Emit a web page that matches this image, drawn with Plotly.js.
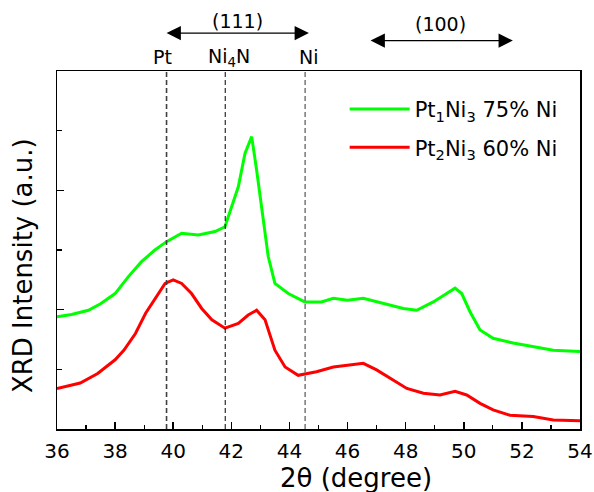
<!DOCTYPE html>
<html>
<head>
<meta charset="utf-8">
<script src="https://cdn.plot.ly/plotly-3.0.1.min.js"></script>
<style>html,body{margin:0;padding:0;background:#fff;}#chart{width:594px;height:492px;}</style>
</head>
<body>
<div id="chart"></div>
<script>
// 2θ positions and intensities (a.u., offset)
const greenX = [36.0, 36.5, 37.08, 37.5, 38.0, 38.45, 38.9, 39.37, 39.77, 40.29, 40.86, 41.44, 41.78, 42.0, 42.24, 42.47, 42.7, 42.87, 43.1, 43.27, 43.5, 43.96, 44.53, 45.1, 45.51, 46.0, 46.54, 47.23, 47.92, 48.38, 48.95, 49.41, 49.7, 49.93, 50.21, 50.56, 51.01, 51.7, 52.39, 53.08, 54.0];
const greenY = [1.88, 1.92, 1.99, 2.1, 2.27, 2.55, 2.8, 3.0, 3.14, 3.28, 3.25, 3.31, 3.39, 3.7, 4.06, 4.62, 4.9, 4.34, 3.45, 2.89, 2.44, 2.27, 2.13, 2.13, 2.19, 2.16, 2.19, 2.11, 2.02, 1.99, 2.13, 2.27, 2.36, 2.27, 1.97, 1.66, 1.52, 1.44, 1.38, 1.32, 1.3];
const redX = [36.0, 36.8, 37.4, 38.0, 38.3, 38.7, 39.05, 39.37, 39.72, 40.0, 40.29, 40.63, 40.98, 41.33, 41.78, 42.24, 42.58, 42.87, 43.16, 43.5, 43.85, 44.3, 44.93, 45.51, 46.08, 46.54, 47.0, 47.46, 48.04, 48.61, 49.18, 49.7, 50.1, 50.56, 51.01, 51.59, 52.39, 53.08, 54.0];
const redY = [0.68, 0.77, 0.93, 1.16, 1.32, 1.6, 1.94, 2.19, 2.44, 2.5, 2.44, 2.27, 2.02, 1.83, 1.69, 1.77, 1.91, 1.99, 1.83, 1.32, 1.04, 0.9, 0.96, 1.04, 1.07, 1.1, 0.99, 0.85, 0.68, 0.6, 0.57, 0.63, 0.57, 0.43, 0.32, 0.23, 0.21, 0.15, 0.14];
const seriesNames = ['Pt<sub>1</sub>Ni<sub>3</sub> 75% Ni', 'Pt<sub>2</sub>Ni<sub>3</sub> 60% Ni'];
const xTicks = [36, 38, 40, 42, 44, 46, 48, 50, 52, 54];
const refLines = [39.77, 41.79, 44.54];
const refLabels = ['Pt', 'Ni<sub>4</sub>N', 'Ni'];
const planeLabels = ['(111)', '(100)'];
const planeRanges = [[39.72, 44.67], [46.74, 51.69]];
const xTitle = '2θ (degree)';
const yTitle = 'XRD Intensity (a.u.)';

const FONT = 'DejaVu Sans, Arial, sans-serif';

const traces = [
  {x: greenX, y: greenY, name: seriesNames[0], type: 'scatter', mode: 'lines',
   line: {color: '#00ff00', width: 3}, legendgroup: 'a'},
  {x: redX, y: redY, name: seriesNames[1], type: 'scatter', mode: 'lines',
   line: {color: '#ff0000', width: 3}, legendgroup: 'b'}
];

const refStyles = [
  {color: '#404040', width: 1.6, dash: '5px,3px'},
  {color: '#000000', width: 1.0, dash: '5px,3px'},
  {color: '#808080', width: 1.6, dash: '5px,3px'}
];
const shapes = refLines.map((v, i) => ({
  type: 'line', xref: 'x', yref: 'paper', x0: v, x1: v, y0: 0, y1: 1,
  line: refStyles[i]
}));

const annotations = [];
const labelShift = [-4, 4, 4];
refLines.forEach((v, i) => {
  annotations.push({x: v, y: 1.039, xref: 'x', yref: 'paper', text: refLabels[i],
    showarrow: false, xshift: labelShift[i], font: {family: FONT, size: 19, color: '#000'},
    yanchor: 'middle'});
});
const arrowY = [1.106, 1.085];
const textY = [1.14, 1.13];
planeRanges.forEach((r, i) => {
  annotations.push({x: r[1], y: arrowY[i], ax: r[0], ay: arrowY[i], xref: 'x', yref: 'paper',
    axref: 'x', ayref: 'paper', text: '', showarrow: true, arrowside: 'end+start',
    arrowhead: 2, arrowsize: 2.2, arrowwidth: 1.3, arrowcolor: '#000', standoff: 0, startstandoff: 0});
  annotations.push({x: (r[0] + r[1]) / 2, y: textY[i], xref: 'x', yref: 'paper', text: planeLabels[i],
    showarrow: false, font: {family: FONT, size: 19, color: '#000'}, yanchor: 'middle'});
});
// axis titles (offset as in the reference)
annotations.push({x: 0.572, y: -0.137, xref: 'paper', yref: 'paper', text: xTitle, showarrow: false,
  font: {family: FONT, size: 26, color: '#000'}, xanchor: 'center', yanchor: 'middle'});
annotations.push({x: -0.065, y: 0.455, xref: 'paper', yref: 'paper', text: yTitle, showarrow: false,
  textangle: -90, font: {family: FONT, size: 26, color: '#000'}, xanchor: 'center', yanchor: 'middle'});

const layout = {
  width: 594, height: 492,
  margin: {l: 57, r: 14, t: 71, b: 63},
  paper_bgcolor: '#fff', plot_bgcolor: '#fff',
  font: {family: FONT, color: '#000'},
  showlegend: true,
  legend: {x: 0.55, y: 0.95, xanchor: 'left', yanchor: 'top', bgcolor: 'rgba(0,0,0,0)',
    font: {family: FONT, size: 21, color: '#000'}, tracegroupgap: 8, itemwidth: 60},
  xaxis: {range: [36, 54], tickvals: xTicks, ticks: 'inside', ticklen: 7, tickwidth: 1.5,
    tickcolor: '#000', showline: true, linecolor: '#000', linewidth: 1.5, mirror: true,
    showgrid: false, zeroline: false, ticklabelstandoff: 3,
    minor: {dtick: 1, ticks: 'inside', ticklen: 4, tickwidth: 1.2, tickcolor: '#000', showgrid: false},
    tickfont: {family: FONT, size: 20, color: '#000'}},
  yaxis: {range: [0, 6], dtick: 2, tick0: 0, ticks: 'inside', ticklen: 7, tickwidth: 1.5,
    tickcolor: '#000', showticklabels: false, showline: true, linecolor: '#000', linewidth: 1.5,
    mirror: true, showgrid: false, zeroline: false,
    minor: {dtick: 1, ticks: 'inside', ticklen: 5, tickwidth: 1.2, tickcolor: '#000', showgrid: false}},
  shapes: shapes,
  annotations: annotations
};

Plotly.newPlot('chart', traces, layout, {displayModeBar: false, staticPlot: true});
</script>
</body>
</html>
